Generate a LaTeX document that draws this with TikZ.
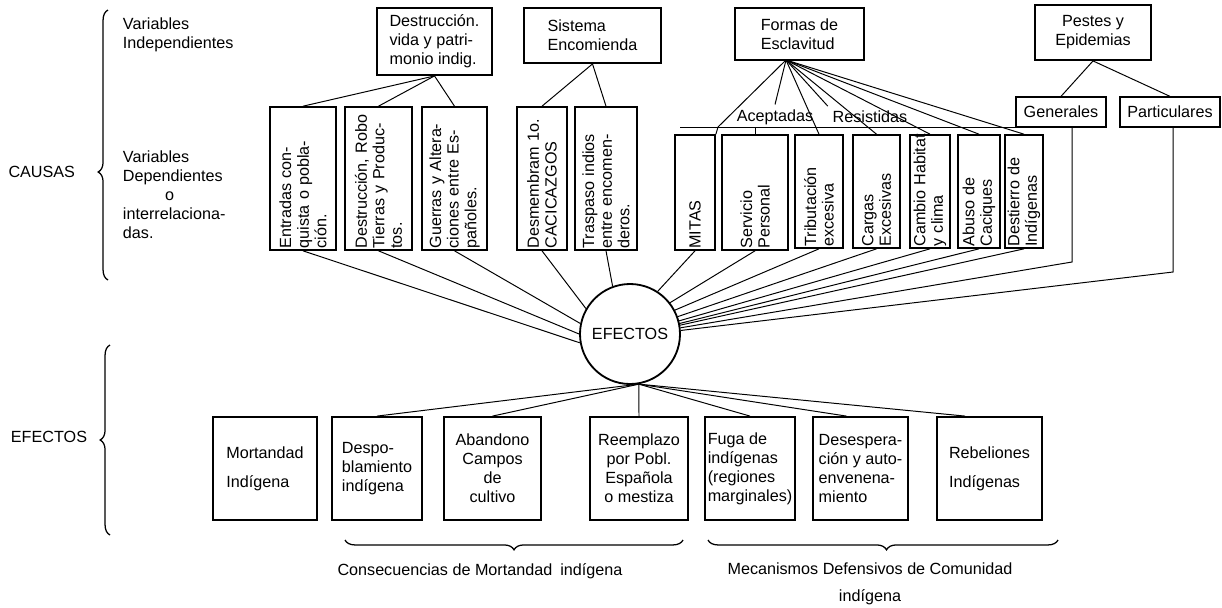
\documentclass[tikz,border=0pt]{standalone}
\usepackage{fontspec}
\setmainfont{Liberation Sans}
\usepackage{tikz}
\usetikzlibrary{decorations.pathreplacing}
\newlength{\px}
\setlength{\px}{0.025cm}
\begin{document}
\begin{tikzpicture}[
    x=0.025cm, y=-0.025cm,
    every node/.style={font=\fontsize{11.5}{13.5}\selectfont},
    box/.style={draw, line width=1.3pt, align=center, inner sep=2pt},
    vbox/.style={box, rotate=90, align=left, inner sep=1pt, font=\fontsize{11.5}{12.5}\selectfont},
    lbl/.style={align=left},
    link/.style={line width=0.7pt},
    brace/.style={decorate, decoration={brace, amplitude=7pt}, line width=0.9pt},
  ]

  \useasboundingbox (0,0) rectangle (1222,607);

  \node[anchor=east] (causas) at (80,172) {CAUSAS};
  \node[lbl, anchor=west] (vind) at (118,35) {Variables\\Independientes};
  \node[lbl, anchor=west] (vdep) at (118,195) {Variables\\Dependientes\\\hspace*{2.6em}o\\interrelaciona-\\das.};
  \node[anchor=east] (efl) at (92,437) {EFECTOS};

  \node[box, minimum width=115\px, minimum height=67\px, align=left] (destr) at (434.5,41.5) {Destrucción.\\vida y patri-\\monio indig.};
  \node[box, minimum width=137\px, minimum height=55\px, align=left] (sist) at (592.5,35.5) {Sistema\\Encomienda};
  \node[box, minimum width=129\px, minimum height=52\px, align=left] (form) at (799.5,34) {Formas de\\Esclavitud};
  \node[box, minimum width=116\px, minimum height=55\px] (pest) at (1093,32.5) {Pestes y\\Epidemias};
  \node[box, line width=0.9pt, minimum width=90\px, minimum height=30\px] (gen) at (1061,112) {Generales};
  \node[box, line width=0.9pt, minimum width=100\px, minimum height=30\px] (part) at (1170,112) {Particulares};

  \node[vbox, text width=140\px, minimum height=66\px] (entr) at (303,178.5) {Entradas con-\\quista o pobla-\\ción.};
  \node[vbox, text width=140\px, minimum height=67\px] (robo) at (378.5,178.5) {Destrucción, Robo\\Tierras y Produc-\\tos.};
  \node[vbox, text width=140\px, minimum height=65\px] (guer) at (454.5,178.5) {Guerras y Altera-\\ciones entre Es-\\pañoles.};
  \node[vbox, text width=140\px, minimum height=50\px] (desm) at (542,178.5) {Desmembram 1o.\\CACICAZGOS};
  \node[vbox, text width=140\px, minimum height=62\px] (tras) at (606,178.5) {Traspaso indios\\entre encomen-\\deros.};
  \node[vbox, text width=112\px, minimum height=40\px] (mitas) at (695,192.5) {MITAS};
  \node[vbox, text width=112\px, minimum height=66\px] (serv) at (755,192.5) {Servicio\\Personal};
  \node[vbox, text width=110\px, minimum height=48\px] (trib) at (819,191.5) {Tributación\\excesiva};
  \node[vbox, text width=110\px, minimum height=47\px] (carg) at (876.5,191.5) {Cargas\\Excesivas};
  \node[vbox, text width=110\px, minimum height=40\px] (camb) at (930,191.5) {\mbox{Cambio Habitat}\\y clima};
  \node[vbox, text width=110\px, minimum height=42\px] (abus) at (979,191.5) {Abuso de\\Caciques};
  \node[vbox, text width=110\px, minimum height=38\px] (dest) at (1024,191.5) {Destierro de\\Indígenas};

  \node (acep) at (775,117) {Aceptadas};
  \node (resi) at (870,117) {Resistidas};

  \node[draw, circle, line width=1.3pt, minimum size=100\px, inner sep=0pt] (efec) at (630,334) {EFECTOS};

  \node[box, minimum width=104\px, minimum height=103\px, align=left] (mort) at (265,468.5) {Mortandad\\[7pt]Indígena};
  \node[box, minimum width=90\px, minimum height=103\px, align=left] (desp) at (377,468.5) {Despo-\\blamiento\\indígena};
  \node[box, minimum width=97\px, minimum height=103\px] (aban) at (492.5,468.5) {Abandono\\Campos\\de\\cultivo};
  \node[box, minimum width=98\px, minimum height=103\px] (reem) at (639,468.5) {Reemplazo\\por Pobl.\\Española\\o mestiza};
  \node[box, minimum width=90\px, minimum height=103\px, align=left] (fuga) at (750,468.5) {Fuga de\\indígenas\\(regiones\\marginales)};
  \node[box, minimum width=95\px, minimum height=103\px, align=left] (dese) at (860.5,468.5) {Desespera-\\ción y auto-\\envenena-\\miento};
  \node[box, minimum width=105\px, minimum height=103\px, align=left] (rebe) at (989.5,468.5) {Rebeliones\\[7pt]Indígenas};

  \node (cons) at (480,571) {Consecuencias de Mortandad\enspace indígena};
  \node[align=center] (meca) at (870,584) {Mecanismos Defensivos de Comunidad\\[6pt]indígena};

  \draw[brace, decoration={aspect=0.4}] (108,280) -- (108,10);
  \draw[brace, decoration={aspect=0.5}] (110,535) -- (110,345);
  \draw[brace, decoration={mirror, aspect=0.5}] (345,540) -- (683,540);
  \draw[brace, decoration={mirror, aspect=0.51}] (708,540) -- (1058,540);

  \coordinate (fapex) at (786,60);
  \coordinate (gl) at (680,127);
  \coordinate (gr) at (1045,127);
  \coordinate (accl) at (718,127);
  \coordinate (gbend) at (1072,262);
  \coordinate (pbend) at (1173,272);

  \draw[link] (destr.south) -- (entr.east);
  \draw[link] (destr.south) -- (robo.east);
  \draw[link] (destr.south) -- (guer.east);
  \draw[link] (sist.south) -- (desm.east);
  \draw[link] (sist.south) -- (tras.east);

  \draw[link] (gl) -- (gr);
  \draw[link] (fapex) -- (accl);
  \draw[link] (accl) -- (mitas.south east);
  \draw[link] (fapex) -- (acep.north);
  \draw[link] (serv.east) -- (serv.east |- gl);
  \draw[link] (fapex) -- (trib.east);
  \draw[link] (fapex) -- (resi.north west);
  \draw[link] (fapex) -- (carg.east);
  \draw[link] (fapex) -- (camb.east);
  \draw[link] (fapex) -- (abus.east);
  \draw[link] (fapex) -- (dest.east);

  \draw[link] (pest.south) -- (gen.north);
  \draw[link] (pest.south) -- (part.north);
  \draw[link] (gen.south -| gbend) -- (gbend) -- (efec.7);
  \draw[link] (part.south -| pbend) -- (pbend) -- (efec.4);

  \draw[link] (entr.west) -- (efec.190);
  \draw[link] (robo.west) -- (efec.180);
  \draw[link] (guer.west) -- (efec.168);
  \draw[link] (desm.west) -- (efec.150);
  \draw[link] (tras.west) -- (efec.110);
  \draw[link] (mitas.west) -- (efec.57);
  \draw[link] (serv.west) -- (efec.38);
  \draw[link] (trib.west) -- (efec.28);
  \draw[link] (carg.west) -- (efec.20);
  \draw[link] (camb.west) -- (efec.15);
  \draw[link] (abus.west) -- (efec.12);
  \draw[link] (dest.west) -- (efec.10);

  \draw[link] (efec.280) -- (desp.north);
  \draw[link] (efec.280) -- (aban.north);
  \draw[link] (efec.280) -- (reem.north);
  \draw[link] (efec.280) -- (fuga.north);
  \draw[link] (efec.280) -- (dese.105);
  \draw[link] (efec.280) -- (rebe.115);

\end{tikzpicture}
\end{document}
